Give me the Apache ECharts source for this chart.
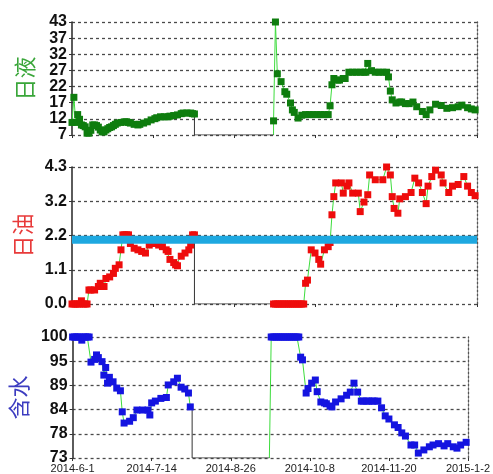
<!DOCTYPE html>
<html>
<head>
<meta charset="utf-8">
<script src="https://cdn.jsdelivr.net/npm/echarts@6/dist/echarts.min.js"></script>
<style>
html, body { margin: 0; padding: 0; background: #fff; }
#main { width: 493px; height: 474px; }
</style>
</head>
<body>
<div id="main"></div>
<script>
// x 轴: 自 2014-6-1 起的天数
var dayMax = 215;
var dateLabels = ['2014-6-1', '2014-7-14', '2014-8-26', '2014-10-8', '2014-11-20', '2015-1-2'];
var gapStart = 65, gapEnd = 107;   // 停井期间

// 日液
var liqTicks = ['7', '12', '17', '22', '27', '32', '37', '43'];
var liqDaysA = [0,1,2,3,4,5,6,7,8,9,10,11,12,13,14,15,16,17,18,19,20,21,22,23,24,26,28,29,30,31,33,35,36,38,40,42,44,45,47,49,51,52,54,56,58,59,61,63,64,65];
var liqValsA = [11,19,11,13.5,12,10.2,10,9.6,7.6,7.6,8.5,10.2,10.2,10,9.5,8.6,8,8,8.6,9,9.4,9.6,10,10.4,10.8,11,11.2,11.2,11,10.8,10.4,10.2,10.4,10.8,11.2,11.8,12.2,12.5,12.8,12.8,12.8,13,13.2,13.4,13.8,14,14,14,13.8,13.7];
var liqDaysB = [107,108,109,111,113,114,116,117,118,120,122,124,126,128,130,132,134,136,137,138,139,141,142,144,145,147,149,151,153,155,156,157,159,161,163,165,167,168,169,170,172,174,175,177,179,181,183,186,188,190,193,196,199,202,205,207,210,212,214];
var liqValsB = [11.5,43,26.5,24,20.8,20,17.2,15,14.2,12.4,13.3,13.5,13.5,13.5,13.5,13.5,13.5,13.5,16.3,23,25,24.5,24.5,25,25,27,27,27,27,27,27,29.8,27.5,27,27,27,27,25.5,21,18.2,17.2,17.5,17.5,17,17,17.5,16,14.5,13.5,15,16.8,16.4,15.5,15.7,16,16.5,15.7,15.3,15];

// 日油
var oilTicks = ['0.0', '1.1', '2.2', '3.2', '4.3'];
var oilBaseline = 2.02;
var oilDaysA = [0,1,2,3,4,5,6,7,8,9,10,12,14,15,17,18,20,22,23,25,26,27,28,29,30,31,33,35,37,39,41,43,44,46,48,50,51,52,54,55,56,58,60,62,63,64,65];
var oilValsA = [0,0,0,0,0,0.1,0,0,0,0.44,0.44,0.44,0.55,0.65,0.55,0.8,0.85,0.96,1.12,1.23,1.7,2.17,2.17,2.17,2.17,1.9,1.75,1.7,1.65,1.6,1.85,1.9,1.9,1.85,1.8,1.7,1.65,1.4,1.3,1.23,1.2,1.5,1.6,1.7,1.85,2.17,2.17];
var oilDaysB = [107,108,109,110,111,112,113,114,115,116,117,118,119,120,121,122,123,124,125,127,129,131,132,134,136,137,138,139,140,143,144,146,147,149,152,153,155,157,158,161,165,167,169,170,171,173,174,177,180,182,184,186,188,189,191,193,196,197,200,202,205,208,210,212,214];
var oilValsB = [0,0,0,0,0,0,0,0,0,0,0,0,0,0,0,0,0,0.65,0.75,1.7,1.6,1.4,1.25,1.7,1.8,1.93,2.8,3.37,3.8,3.8,3.48,3.7,3.8,3.48,3.48,2.9,3.2,3.43,4.05,3.9,3.9,4.3,4.05,3.37,3.0,2.85,3.3,3.37,3.5,3.95,3.8,3.5,3.15,3.7,4.0,4.2,4.05,3.8,3.5,3.7,3.75,4.0,3.7,3.5,3.4];

// 含水
var waterTicks = ['73', '78', '84', '89', '95', '100'];
var waterDaysA = [0,1,2,3,4,5,6,7,8,9,10,12,13,14,16,17,18,19,20,22,24,26,27,28,31,33,35,38,41,42,43,45,48,51,52,55,57,59,61,63,64];
var waterValsA = [100,100,100,100,100,99.3,100,100,100,100,94.4,95,96,95.4,94.5,91.5,93.2,89.7,91,90,88.6,88,83.3,80.8,81.2,82,83.7,83.7,83.7,82.6,85.3,85.7,86.3,86.5,89.3,90,90.8,88.8,88.4,87.5,84.4];
var waterDaysB = [108,109,110,111,112,113,114,115,116,117,118,119,120,121,122,123,124,125,127,128,130,132,133,135,137,138,140,141,143,146,149,151,153,155,157,158,160,161,163,164,166,168,170,172,175,177,179,181,184,186,188,191,194,196,199,202,204,207,209,211,214];
var waterValsB = [100,100,100,100,100,100,100,100,100,100,100,100,100,100,100,100,95.5,94.9,87.5,88.5,89.7,90.4,87.8,85.5,85.3,85.1,84.6,84.4,85.5,86.2,87,87.7,89.7,87.7,85.7,85.7,85.7,85.7,85.7,85.7,85.7,84.2,82.4,81.7,80.4,79.8,78.6,77.9,75.9,75.9,74.1,74.8,75.5,75.9,76.2,75.7,76.2,75.5,75.2,75.9,76.5];

var panels = [
    { name: '日液', nameColor: '#3aa63a', mark: '#0e7d0e', min: 7, max: 43, ticks: liqTicks,
      daysA: liqDaysA, valsA: liqValsA, daysB: liqDaysB, valsB: liqValsB, top: 22, height: 113 },
    { name: '日油', nameColor: '#e83a3a', mark: '#ee0c0c', min: 0, max: 4.3, ticks: oilTicks,
      daysA: oilDaysA, valsA: oilValsA, daysB: oilDaysB, valsB: oilValsB, top: 167, height: 137 },
    { name: '含水', nameColor: '#3c3cc0', mark: '#1414e0', min: 73, max: 100, ticks: waterTicks,
      daysA: waterDaysA, valsA: waterValsA, daysB: waterDaysB, valsB: waterValsB, top: 337, height: 121 }
];

function pairs(days, vals) {
    return days.map(function(d, i) { return [d, vals[i]]; });
}

var lineGreen = '#3ddc3d';
var dotLine = { color: '#4a4a4a', width: 1.3, type: [3, 3] };

var grids = [], xAxes = [], yAxes = [], rightAxes = [], series = [];

panels.forEach(function(p, i) {
    var n = p.ticks.length - 1;
    var tickVals = [];
    for (var k = 0; k <= n; k++) tickVals.push(p.min + (p.max - p.min) * k / n);

    grids.push({ left: 72, right: 16, top: p.top, height: p.height });

    xAxes.push({
        type: 'value', gridIndex: i, min: 0, max: dayMax, interval: 43,
        axisLine: { show: false },
        axisTick: { show: true, length: 3, lineStyle: { color: '#333' } },
        splitLine: { show: false },
        axisLabel: {
            show: i === 2, margin: 5, fontSize: 11, color: '#222', fontFamily: 'Liberation Sans',
            formatter: function(v) { return dateLabels[Math.round(v / 43)]; }
        }
    });

    yAxes.push({
        type: 'value', gridIndex: i, min: p.min, max: p.max,
        name: p.name, nameLocation: 'middle', nameRotate: 90, nameGap: 36,
        nameTextStyle: { fontSize: 22, color: p.nameColor, fontFamily: 'Noto Sans CJK SC' },
        axisLine: { show: true, lineStyle: { color: '#333', width: 1.6 } },
        axisTick: { show: true, length: 3, customValues: tickVals, lineStyle: { color: '#333' } },
        splitLine: { show: true, lineStyle: dotLine },
        axisLabel: {
            customValues: tickVals, margin: 5, fontSize: 16, fontWeight: 'bold', color: '#111',
            fontFamily: 'Liberation Sans',
            formatter: function(v) {
                return p.ticks[Math.round((v - p.min) / (p.max - p.min) * n)];
            }
        }
    });

    rightAxes.push({
        type: 'value', gridIndex: i, min: p.min, max: p.max, position: 'right',
        axisLine: { show: true, lineStyle: { color: '#555', width: 1.3, type: [2, 2] } },
        axisTick: { show: false }, axisLabel: { show: false }, splitLine: { show: false }
    });

    var common = {
        type: 'line', xAxisIndex: i, yAxisIndex: i,
        symbol: 'rect', symbolSize: 7,
        lineStyle: { color: lineGreen, width: 1 },
        itemStyle: { color: p.mark },
        emphasis: { disabled: true }
    };

    series.push(Object.assign({}, common, { data: pairs(p.daysA, p.valsA) }));

    var segB = [{ value: [gapEnd, p.min], symbol: 'none' }].concat(pairs(p.daysB, p.valsB));
    series.push(Object.assign({}, common, { data: segB }));

    // 停井: 落到底线
    var lastA = p.valsA[p.valsA.length - 1];
    series.push({
        type: 'line', xAxisIndex: i, yAxisIndex: i, symbol: 'none',
        lineStyle: { color: '#333', width: 1 },
        data: [[gapStart, lastA], [gapStart, p.min], [gapEnd, p.min]]
    });
});

// 日油基准线
series.push({
    type: 'line', xAxisIndex: 1, yAxisIndex: 1, symbol: 'none', z: 5,
    lineStyle: { color: '#1ea8e0', width: 8 },
    data: [[0, oilBaseline], [dayMax, oilBaseline]]
});

var myChart = echarts.init(document.getElementById('main'));
myChart.setOption({
    animation: false,
    backgroundColor: '#fff',
    grid: grids,
    xAxis: xAxes,
    yAxis: yAxes.concat(rightAxes),
    series: series
});
</script>
</body>
</html>
